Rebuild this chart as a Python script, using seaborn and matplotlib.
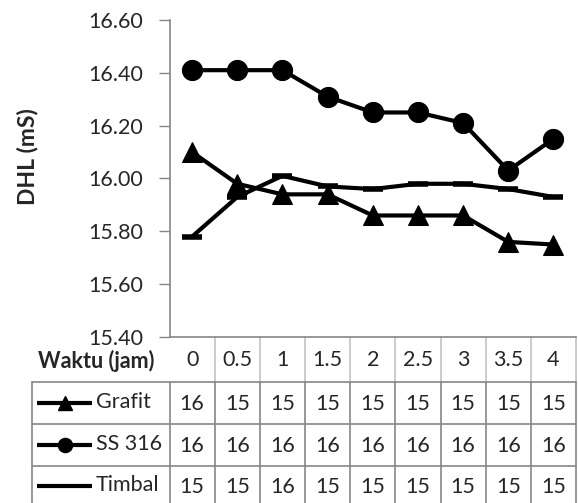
import numpy as np
import pandas as pd
import matplotlib
matplotlib.use("Agg")
import matplotlib.pyplot as plt
import seaborn as sns

# Sampling times (hours) and conductivity readings (mS) per electrode
waktu = ["0", "0.5", "1", "1.5", "2", "2.5", "3", "3.5", "4"]
grafit = [16.10, 15.98, 15.94, 15.94, 15.86, 15.86, 15.86, 15.76, 15.75]
ss316 = [16.41, 16.41, 16.41, 16.31, 16.25, 16.25, 16.21, 16.03, 16.15]
timbal = [15.78, 15.93, 16.01, 15.97, 15.96, 15.98, 15.98, 15.96, 15.93]
series_names = ["Grafit", "SS 316", "Timbal"]
yticks = [15.40, 15.60, 15.80, 16.00, 16.20, 16.40, 16.60]

sns.set_theme(style="white")
plt.rcParams["font.family"] = ["Lato", "DejaVu Sans"]
FS = 15.5

W, H = 578, 503
fig = plt.figure(figsize=(W / 100, H / 100), dpi=100)

# plot area in pixel units
x0, x1 = 169.5, 576.0
y_top, y_bot = 20.0, 337.0
ax = fig.add_axes([x0 / W, 1 - y_bot / H, (x1 - x0) / W, (y_bot - y_top) / H])
ax.patch.set_alpha(0)

df = pd.DataFrame({"pos": np.arange(len(waktu)), "Grafit": grafit,
                   "SS 316": ss316, "Timbal": timbal})
styles = {
    "Grafit": dict(marker="^", markersize=14),
    "SS 316": dict(marker="o", markersize=14.5),
    "Timbal": dict(marker="_", markersize=14, markeredgewidth=4),
}
for name in series_names:
    sns.lineplot(data=df, x="pos", y=name, ax=ax, color="black", lw=3,
                 markeredgecolor="black", markerfacecolor="black",
                 legend=False, **styles[name])

grey = "#868686"
light = "#c4c4c4"
ax.set_xlim(-0.5, len(waktu) - 0.5)
ax.set_ylim(15.40, 16.60)
ax.set_yticks(yticks)
ax.set_yticklabels([f"{v:.2f}" for v in yticks], fontsize=FS)
ax.set_xticks([])
ax.tick_params(axis="y", direction="out", length=8, width=1, color=grey,
               pad=11, left=True)
ax.set_xlabel("")
ax.set_ylabel("")
for s in ["top", "right"]:
    ax.spines[s].set_visible(False)
for s in ["left", "bottom"]:
    ax.spines[s].set_color(grey)
    ax.spines[s].set_linewidth(1.2)

fig.text(27 / W, 1 - 157 / H, "DHL (mS)", rotation=90, ha="center",
         va="center", fontsize=16.5, fontweight="bold")

# data table below the plot
tab = fig.add_axes([0, 0, 1, 1], zorder=-1)
tab.set_xlim(0, W)
tab.set_ylim(H, 0)
tab.axis("off")

n = len(waktu)
cw = (x1 - x0) / n
col_edges = [x0 + cw * i for i in range(n + 1)]
col_mid = [x0 + cw * (i + 0.5) for i in range(n)]
row_edges = [y_bot, 382.0, 424.0, 466.0, 508.0]
lab_left = 32.0

# header row
for xe in col_edges[1:]:
    tab.plot([xe, xe], [y_bot, row_edges[1]], color=light, lw=1.2)
tab.text(96, (y_bot + row_edges[1]) / 2 + 1, "Waktu (jam)", ha="center",
         va="center", fontsize=FS, fontweight="bold")
for xm, lab in zip(col_mid, waktu):
    tab.text(xm, (y_bot + row_edges[1]) / 2 + 1, lab, ha="center",
             va="center", fontsize=FS)

# data rows
for ye in row_edges[1:4]:
    tab.plot([lab_left, x1], [ye, ye], color=grey, lw=1.2)
tab.plot([lab_left, lab_left], [row_edges[1], H], color=grey, lw=1.2)
for xe in col_edges:
    tab.plot([xe, xe], [row_edges[1], H], color=grey, lw=1.2)

values = {"Grafit": grafit, "SS 316": ss316, "Timbal": timbal}
for r, name in enumerate(series_names):
    yc = (row_edges[r + 1] + row_edges[r + 2]) / 2
    if r == 2:
        yc = row_edges[3] + 20
    st = styles[name]
    tab.plot([37, 92], [yc, yc], color="black", lw=3, solid_capstyle="butt")
    tab.plot([64.5], [yc], color="black", linestyle="none",
             marker=st["marker"],
             markersize=st["markersize"] * 0.7 if name != "Timbal" else 0)
    tab.text(96, yc - 1, name, ha="left", va="center", fontsize=FS)
    for xm, v in zip(col_mid, values[name]):
        tab.text(xm, yc + 1, f"{int(np.floor(v))}", ha="center",
                 va="center", fontsize=FS)

fig.savefig("out.png", dpi=100)
